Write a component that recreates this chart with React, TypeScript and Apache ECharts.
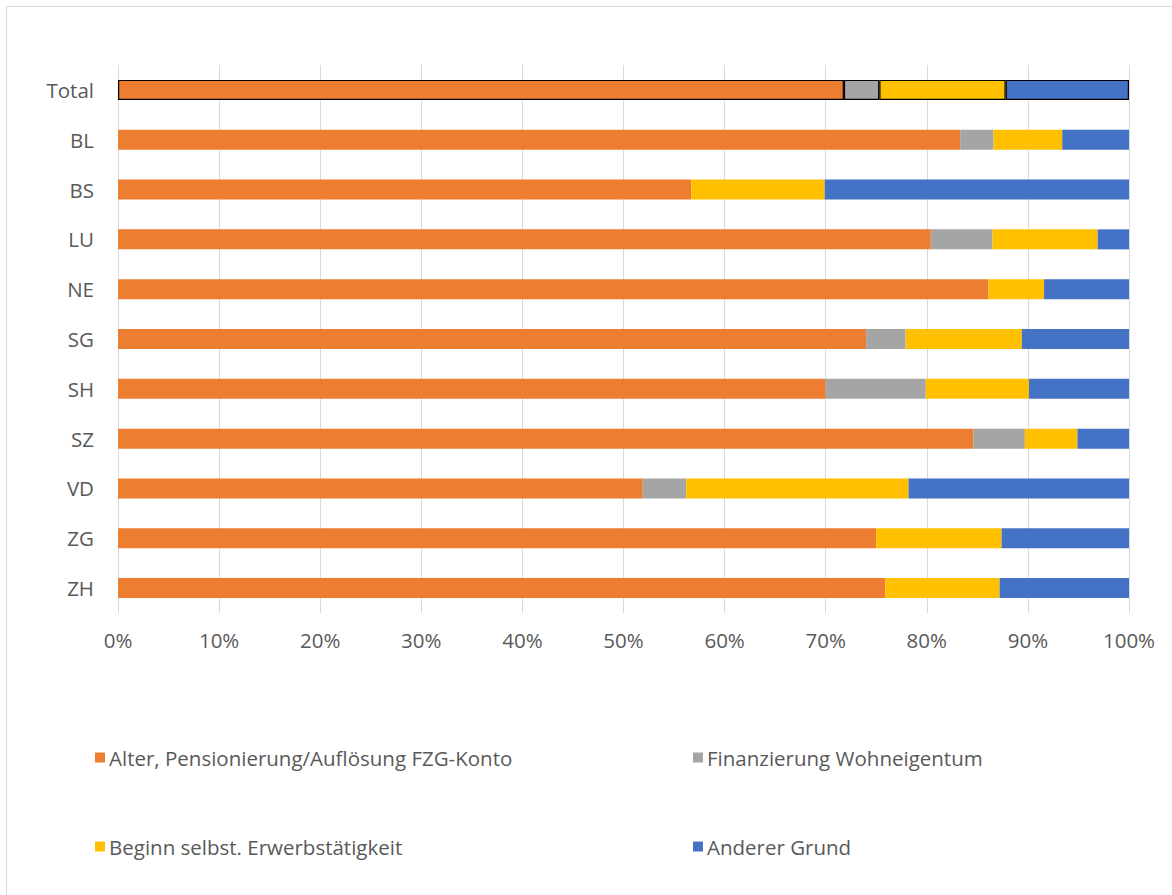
import React, { useEffect, useRef } from "react";
import * as echarts from "echarts";

const categories = ["Total", "BL", "BS", "LU", "NE", "SG", "SH", "SZ", "VD", "ZG", "ZH"];
const seriesNames = [
  "Alter, Pensionierung/Auflösung FZG-Konto",
  "Finanzierung Wohneigentum",
  "Beginn selbst. Erwerbstätigkeit",
  "Anderer Grund",
];
const alter = [71.8, 83.3, 56.7, 80.4, 86.1, 74.0, 70.0, 84.6, 51.9, 75.0, 75.9];
const wohneigentum = [3.5, 3.3, 0, 6.1, 0, 3.9, 9.9, 5.1, 4.3, 0, 0];
const selbst = [12.5, 6.8, 13.2, 10.4, 5.5, 11.5, 10.2, 5.2, 22.0, 12.4, 11.3];
const anderer = [12.2, 6.6, 30.1, 3.1, 8.4, 10.6, 9.9, 5.1, 21.8, 12.6, 12.8];
const colors = ["#ED7D31", "#A5A5A5", "#FFC000", "#4472C4"];
const xTicks = [0, 10, 20, 30, 40, 50, 60, 70, 80, 90, 100];

const FONT = "Open Sans";
const FS = 20.5;
const TEXT = "#595959";

export default function App() {
  const ref = useRef<HTMLDivElement>(null);
  useEffect(() => {
    if (!ref.current) return;
    const chart = echarts.init(ref.current, undefined, { renderer: "svg" });
    const all = [alter, wohneigentum, selbst, anderer];
    const series = all.map((arr, si) => ({
      name: seriesNames[si],
      type: "bar",
      stack: "s",
      barWidth: 20,
      itemStyle: { color: colors[si] },
      data: arr.map((v, i) =>
        i === 0
          ? { value: v, itemStyle: { color: colors[si], borderColor: "#000", borderWidth: 1.2 } }
          : v
      ),
    }));
    const legendPos = [
      { left: 95, top: 747 },
      { left: 693, top: 747 },
      { left: 95, top: 836 },
      { left: 693, top: 836 },
    ];
    chart.setOption({
      animation: false,
      backgroundColor: "#fff",
      textStyle: { fontFamily: FONT },
      graphic: [
        { type: "line", shape: { x1: 6, y1: 6.5, x2: 1172, y2: 6.5 }, style: { stroke: "#d9d9d9", lineWidth: 1 } },
        { type: "line", shape: { x1: 6.5, y1: 6, x2: 6.5, y2: 895 }, style: { stroke: "#d9d9d9", lineWidth: 1 } },
      ],
      legend: legendPos.map((p, i) => ({
        data: [seriesNames[i]],
        left: p.left,
        top: p.top,
        padding: 0,
        itemWidth: 10,
        itemHeight: 10,
        icon: "rect",
        textStyle: { color: TEXT, fontSize: FS, fontFamily: FONT, padding: [0, 0, 0, -1] },
        selectedMode: false,
      })),
      grid: { left: 118, right: 43, top: 65, bottom: 282, containLabel: false },
      xAxis: {
        type: "value",
        min: 0,
        max: 100,
        interval: 10,
        axisLine: { show: false },
        axisTick: { show: false },
        splitLine: { show: true, lineStyle: { color: "#d9d9d9", width: 1 } },
        axisLabel: {
          color: TEXT,
          fontSize: FS,
          fontFamily: FONT,
          margin: 16,
          formatter: (v: number) => (xTicks.includes(v) ? v + "%" : ""),
        },
      },
      yAxis: {
        type: "category",
        data: categories,
        inverse: true,
        axisLine: { show: false },
        axisTick: { show: false },
        axisLabel: { color: TEXT, fontSize: FS, fontFamily: FONT, margin: 24 },
      },
      series,
    });
    return () => chart.dispose();
  }, []);
  return (
    <div
      ref={ref}
      style={{ position: "absolute", left: 0, top: 0, width: 1172, height: 895, background: "#fff" }}
    />
  );
}
